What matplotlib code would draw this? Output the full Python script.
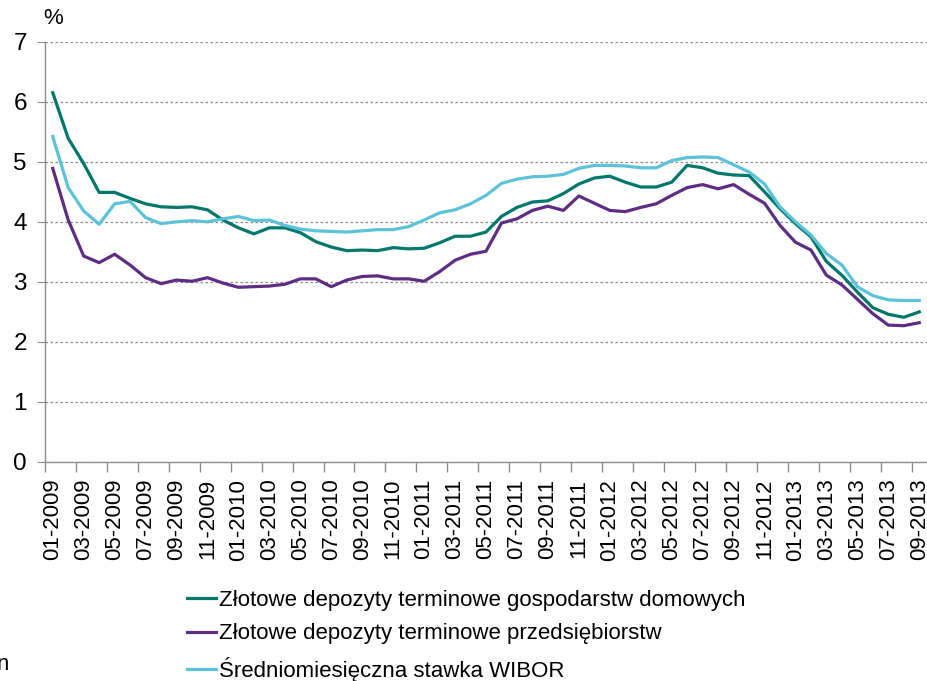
import matplotlib
matplotlib.use("Agg")
import matplotlib.pyplot as plt
from matplotlib.ticker import FixedLocator, NullFormatter

plt.rcParams['font.family'] = ['Liberation Sans', 'DejaVu Sans']

# Monthly observations, 01-2009 .. 09-2013
months = [f"{m:02d}-{y}" for y in range(2009, 2014) for m in range(1, 13)][:57]

households = [6.15, 5.39, 4.97, 4.49, 4.49, 4.39, 4.30, 4.25, 4.24, 4.25,
              4.20, 4.03, 3.90, 3.80, 3.90, 3.90, 3.82, 3.67, 3.58, 3.52,
              3.53, 3.52, 3.57, 3.55, 3.56, 3.65, 3.76, 3.76, 3.83, 4.09,
              4.24, 4.33, 4.35, 4.47, 4.63, 4.73, 4.76, 4.66, 4.58, 4.58,
              4.66, 4.94, 4.90, 4.81, 4.78, 4.77, 4.50, 4.22, 3.97, 3.75,
              3.34, 3.11, 2.83, 2.57, 2.46, 2.41, 2.50]

enterprises = [4.89, 4.03, 3.43, 3.32, 3.46, 3.28, 3.07, 2.97, 3.03, 3.01,
               3.07, 2.98, 2.91, 2.92, 2.93, 2.96, 3.05, 3.05, 2.92, 3.03,
               3.09, 3.10, 3.05, 3.05, 3.01, 3.17, 3.36, 3.46, 3.51, 3.98,
               4.05, 4.19, 4.26, 4.19, 4.43, 4.31, 4.19, 4.17, 4.24, 4.30,
               4.44, 4.57, 4.62, 4.55, 4.62, 4.46, 4.31, 3.94, 3.66, 3.53,
               3.11, 2.95, 2.71, 2.47, 2.28, 2.27, 2.32]

wibor = [5.42, 4.57, 4.18, 3.96, 4.30, 4.34, 4.07, 3.97, 4.00, 4.02,
         4.00, 4.05, 4.09, 4.02, 4.03, 3.94, 3.88, 3.85, 3.84, 3.83,
         3.85, 3.87, 3.87, 3.92, 4.03, 4.15, 4.20, 4.30, 4.44, 4.64,
         4.71, 4.75, 4.76, 4.79, 4.89, 4.94, 4.94, 4.93, 4.90, 4.90,
         5.02, 5.07, 5.08, 5.07, 4.95, 4.83, 4.63, 4.25, 4.00, 3.78,
         3.47, 3.28, 2.92, 2.77, 2.70, 2.69, 2.69]

series_labels = ["Złotowe depozyty terminowe gospodarstw domowych",
                 "Złotowe depozyty terminowe przedsiębiorstw",
                 "Średniomiesięczna stawka WIBOR"]
colors = ["#00776B", "#5C2D83", "#5BC2D8"]

W, H = 928, 681
fig = plt.figure(figsize=(W / 100, H / 100), dpi=100)
left, right, top, bottom = 45, 927, 41.7, 462
ax = fig.add_axes([left / W, 1 - bottom / H, (right - left) / W, (bottom - top) / H])

x = list(range(len(months)))
for vals, lab, col in zip([households, enterprises, wibor], series_labels, colors):
    ax.plot(x, vals, color=col, lw=2.3, label=lab, solid_joinstyle='round')

ax.set_xlim(-0.5, len(months) - 0.5)
ax.set_ylim(0, 7)
ax.set_yticks(range(0, 8))
ax.tick_params(axis='y', labelsize=17.5, length=6, color='#8c8c8c', pad=7)

# category labels every second month, tick marks on category boundaries
ax.xaxis.set_major_locator(FixedLocator(x[::2]))
ax.set_xticklabels(months[::2], rotation=90, fontsize=16)
ax.tick_params(axis='x', which='major', length=0, pad=12)
ax.xaxis.set_minor_locator(FixedLocator([b - 0.5 for b in range(0, len(months) + 1, 2)]))
ax.xaxis.set_minor_formatter(NullFormatter())
ax.tick_params(axis='x', which='minor', length=7, color='#8c8c8c', width=1)

ax.grid(axis='y', color='#8c8c8c', linestyle=(0, (2, 2)), lw=0.9)
ax.set_axisbelow(True)
for s in ['top', 'right']:
    ax.spines[s].set_visible(False)
for s in ['left', 'bottom']:
    ax.spines[s].set_color('#8c8c8c')
    ax.spines[s].set_linewidth(1.0)

fig.text(43 / W, 1 - 19 / H, "%", fontsize=16, va='center', ha='left')

leg = fig.legend(loc='upper left', bbox_to_anchor=(176 / W, 1 - 579 / H),
                 frameon=False, fontsize=16, handlelength=1.3,
                 handletextpad=0.15, labelspacing=0.55, borderpad=0)
fig.text(-3 / W, 1 - 665 / H, "n", fontsize=16, va='center', ha='left')

fig.savefig("out.png", dpi=100)
